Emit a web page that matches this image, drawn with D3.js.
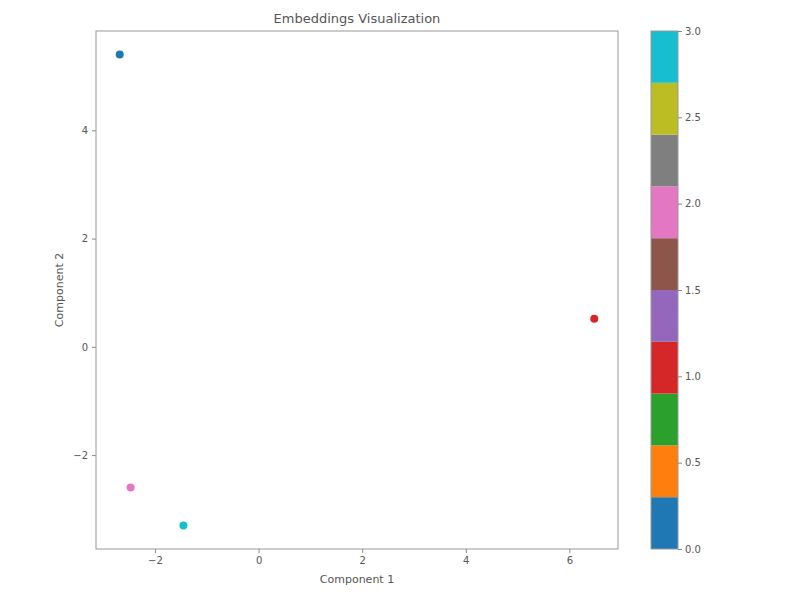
<!DOCTYPE html>
<html>
<head>
<meta charset="utf-8">
<script src="https://cdn.jsdelivr.net/npm/d3@7"></script>
<style>
  body { margin: 0; background: #fff; }
  text { font-family: "DejaVu Sans", sans-serif; fill: #555; }
</style>
</head>
<body>
<svg id="chart"></svg>
<script>
// points
let comp1 = [-2.68, 6.48, -2.47, -1.45]
let comp2 = [5.40, 0.52, -2.60, -3.30]
let labels = [0, 1, 2, 3]

let xTicks = [-2, 0, 2, 4, 6]
let yTicks = [-2, 0, 2, 4]
let cbTicks = [0, 0.5, 1.0, 1.5, 2.0, 2.5, 3.0]
let tab10 = ["#1f77b4","#ff7f0e","#2ca02c","#d62728","#9467bd","#8c564b","#e377c2","#7f7f7f","#bcbd22","#17becf"]

let svg = d3.select('#chart')
    .attr('width', 800)
    .attr('height', 600)

let plot = {left: 96, right: 618, top: 31, bottom: 549}
let cb = {left: 651, right: 678, top: 31, bottom: 549}

// matplotlib style 5% margins
let xPad = (d3.max(comp1) - d3.min(comp1)) * 0.05
let yPad = (d3.max(comp2) - d3.min(comp2)) * 0.05

let x = d3.scaleLinear()
    .domain([d3.min(comp1) - xPad, d3.max(comp1) + xPad])
    .range([plot.left, plot.right])

let y = d3.scaleLinear()
    .domain([d3.min(comp2) - yPad, d3.max(comp2) + yPad])
    .range([plot.bottom, plot.top])

let colorNorm = d3.scaleLinear().domain([0, 3]).range([0, 1])
function colorOf(v){
    let idx = Math.min(9, Math.floor(colorNorm(v) * 10))
    return tab10[idx]
}

// axes
let xAxis = svg.append('g')
    .attr('transform', 'translate(0,' + plot.bottom + ')')
    .call(d3.axisBottom(x).tickValues(xTicks).tickSize(4).tickPadding(4)
        .tickFormat(function(d){ return d < 0 ? '\u2212' + Math.abs(d) : d }))

let yAxis = svg.append('g')
    .attr('transform', 'translate(' + plot.left + ',0)')
    .call(d3.axisLeft(y).tickValues(yTicks).tickSize(4).tickPadding(4)
        .tickFormat(function(d){ return d < 0 ? '\u2212' + Math.abs(d) : d }))

svg.selectAll('.domain').remove()
svg.selectAll('.tick line').attr('stroke', '#888')
svg.selectAll('.tick text').style('font-size', '10px').attr('fill', '#555')

// frame
svg.append('rect')
    .attr('x', plot.left)
    .attr('y', plot.top)
    .attr('width', plot.right - plot.left)
    .attr('height', plot.bottom - plot.top)
    .attr('fill', 'none')
    .attr('stroke', '#999')
    .attr('stroke-width', 1)

// points
svg.append('g').selectAll('circle')
    .data(labels)
    .enter()
    .append('circle')
    .attr('cx', function(d, i){ return x(comp1[i]) })
    .attr('cy', function(d, i){ return y(comp2[i]) })
    .attr('r', 4)
    .attr('fill', function(d){ return colorOf(d) })

// labels
svg.append('text')
    .attr('x', (plot.left + plot.right) / 2)
    .attr('y', 23)
    .attr('text-anchor', 'middle')
    .style('font-size', '13px')
    .text('Embeddings Visualization')

svg.append('text')
    .attr('x', (plot.left + plot.right) / 2)
    .attr('y', 583)
    .attr('text-anchor', 'middle')
    .style('font-size', '11px')
    .text('Component 1')

svg.append('text')
    .attr('transform', 'translate(63,' + (plot.top + plot.bottom) / 2 + ') rotate(-90)')
    .attr('text-anchor', 'middle')
    .style('font-size', '11px')
    .text('Component 2')

// colorbar
let cbScale = d3.scaleLinear().domain([0, 3]).range([cb.bottom, cb.top])
let bands = d3.range(10).map(function(i){ return {i: i, lo: i * 0.3, hi: (i + 1) * 0.3} })

svg.append('g').selectAll('rect')
    .data(bands)
    .enter()
    .append('rect')
    .attr('x', cb.left)
    .attr('y', function(d){ return cbScale(d.hi) })
    .attr('width', cb.right - cb.left)
    .attr('height', function(d){ return cbScale(d.lo) - cbScale(d.hi) })
    .attr('fill', function(d){ return tab10[d.i] })

svg.append('rect')
    .attr('x', cb.left)
    .attr('y', cb.top)
    .attr('width', cb.right - cb.left)
    .attr('height', cb.bottom - cb.top)
    .attr('fill', 'none')
    .attr('stroke', '#999')

let cbAxis = svg.append('g')
    .attr('transform', 'translate(' + cb.right + ',0)')
    .call(d3.axisRight(cbScale).tickValues(cbTicks).tickSize(4).tickPadding(3).tickFormat(d3.format('.1f')))
cbAxis.select('.domain').remove()
cbAxis.selectAll('.tick line').attr('stroke', '#888')
cbAxis.selectAll('.tick text').style('font-size', '10px').attr('fill', '#555')
</script>
</body>
</html>
